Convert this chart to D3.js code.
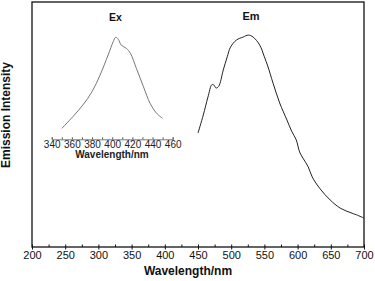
<!DOCTYPE html>
<html>
<head>
<meta charset="utf-8">
<script src="https://cdn.jsdelivr.net/npm/d3@7"></script>
<style>
  body { margin: 0; background: #fff; }
  #chart { width: 375px; height: 281px; }
  text { font-family: "Liberation Sans", Arial, sans-serif; }
</style>
</head>
<body>
<div id="chart"></div>
<script>
// emission spectrum (main plot)
const emWave = [450, 458, 465, 471, 474, 477, 481, 488, 494, 499, 508, 518, 526, 533, 543, 550, 555, 563, 573, 584, 591, 598, 603, 608, 616, 622, 634, 649, 664, 679, 689, 700];
const emInt = [46.5, 53.9, 61.2, 66.3, 66.1, 64.9, 65.5, 72.2, 77.6, 81.6, 84.5, 85.7, 86.5, 85.7, 82.4, 77.6, 73.9, 66.9, 58.8, 51.8, 47.3, 43.7, 38.8, 36.3, 32.7, 28.6, 23.7, 19.2, 15.9, 14.1, 13.1, 11.8];

// excitation spectrum (inset)
const exWave = [350, 361, 371, 380, 388, 396, 401, 403.5, 406, 409, 414, 418, 424, 431, 437.5, 444, 450];
const exInt = [48.4, 53.2, 58.0, 63.4, 70.2, 78.4, 83.8, 85.6, 84.8, 82.4, 81.1, 79.1, 72.9, 65.4, 58.7, 54.6, 52.5];

const mainTicks = [200, 250, 300, 350, 400, 450, 500, 550, 600, 650, 700];
const insetTicks = [340, 360, 380, 400, 420, 440, 460];

const svg = d3.select("#chart").append("svg")
  .attr("width", 375)
  .attr("height", 281);

const x = d3.scaleLinear().domain([200, 700]).range([32, 364]);
const y = d3.scaleLinear().domain([0, 100]).range([247, 2]);
const xi = d3.scaleLinear().domain([340, 460]).range([51.7, 172.7]);

// frame
svg.append("rect")
  .attr("x", 32).attr("y", 2)
  .attr("width", 332).attr("height", 245)
  .attr("fill", "none")
  .attr("stroke", "#111")
  .attr("stroke-width", 1.3);

// main x axis
const minor = d3.range(200, 701, 25);
svg.append("g")
  .attr("transform", "translate(0,247)")
  .call(d3.axisBottom(x).tickValues(minor).tickSize(-2.5).tickFormat(""))
  .call(g => g.select(".domain").remove())
  .call(g => g.selectAll("line").attr("stroke", "#111"));

const xAxis = svg.append("g")
  .attr("transform", "translate(0,247)")
  .call(d3.axisBottom(x).tickValues(mainTicks).tickSize(2.5).tickPadding(2));
xAxis.select(".domain").remove();
xAxis.selectAll("line").attr("stroke", "#111");
xAxis.selectAll("text")
  .attr("font-size", 11)
  .attr("fill", "#111")
  .attr("font-family", "'Liberation Sans', Arial, sans-serif");

svg.append("text")
  .attr("x", 188).attr("y", 275)
  .attr("text-anchor", "middle")
  .attr("font-size", 12)
  .attr("font-weight", "bold")
  .attr("fill", "#111")
  .text("Wavelength/nm");

svg.append("text")
  .attr("transform", "translate(10,115) rotate(-90)")
  .attr("text-anchor", "middle")
  .attr("font-size", 12)
  .attr("font-weight", "bold")
  .attr("fill", "#111")
  .text("Emission Intensity");

// emission line
const emLine = d3.line()
  .x((d, i) => x(emWave[i]))
  .y(d => y(d))
  .curve(d3.curveCatmullRom);

svg.append("path")
  .datum(emInt)
  .attr("d", emLine)
  .attr("fill", "none")
  .attr("stroke", "#222")
  .attr("stroke-width", 1);

svg.append("text")
  .attr("x", 251).attr("y", 20)
  .attr("text-anchor", "middle")
  .attr("font-size", 11)
  .attr("font-weight", "bold")
  .attr("fill", "#111")
  .text("Em");

// inset
const inset = svg.append("g");

inset.append("g")
  .attr("transform", "translate(0,139.3)")
  .call(d3.axisBottom(xi).tickValues(d3.range(340, 461, 10)).tickSize(-2).tickFormat(""))
  .call(g => g.select(".domain").attr("stroke", "#555").attr("stroke-width", 0.8))
  .call(g => g.selectAll("line").attr("stroke", "#555"));

const iAxis = inset.append("g")
  .attr("transform", "translate(0,139.3)")
  .call(d3.axisBottom(xi).tickValues(insetTicks).tickSize(0).tickPadding(2));
iAxis.select(".domain").remove();
iAxis.selectAll("text")
  .attr("font-size", 10)
  .attr("fill", "#222")
  .attr("font-family", "'Liberation Sans', Arial, sans-serif");

inset.append("text")
  .attr("x", 112).attr("y", 157.5)
  .attr("text-anchor", "middle")
  .attr("font-size", 10)
  .attr("font-weight", "bold")
  .attr("fill", "#222")
  .text("Wavelength/nm");

const exLine = d3.line()
  .x((d, i) => xi(exWave[i]))
  .y(d => y(d))
  .curve(d3.curveCatmullRom);

inset.append("path")
  .datum(exInt)
  .attr("d", exLine)
  .attr("fill", "none")
  .attr("stroke", "#777")
  .attr("stroke-width", 1);

inset.append("text")
  .attr("x", 115.5).attr("y", 21)
  .attr("text-anchor", "middle")
  .attr("font-size", 10.5)
  .attr("font-weight", "bold")
  .attr("fill", "#111")
  .text("Ex");
</script>
</body>
</html>
